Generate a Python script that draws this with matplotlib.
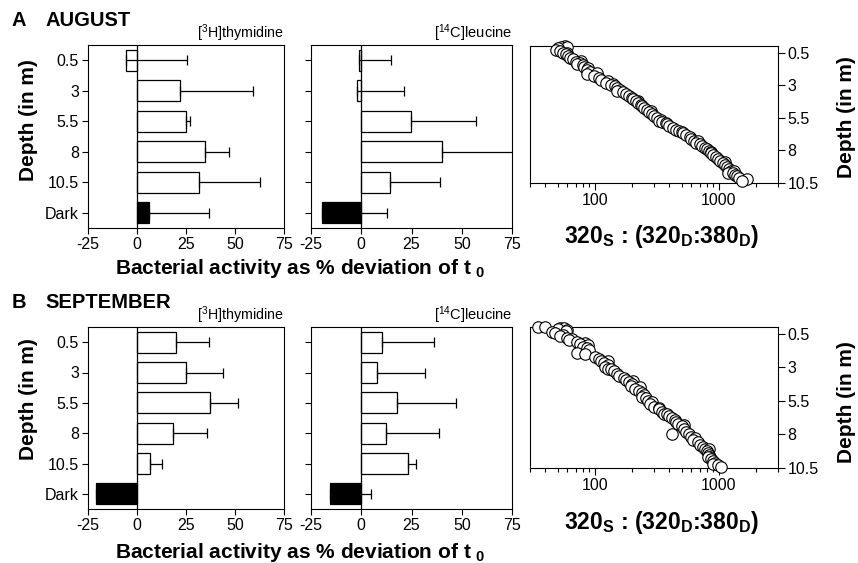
import numpy as np
import matplotlib.pyplot as plt
from matplotlib.ticker import LogLocator, NullFormatter

plt.rcParams['font.family'] = ['Liberation Sans', 'DejaVu Sans']
plt.rcParams['mathtext.fontset'] = 'custom'
plt.rcParams['mathtext.rm'] = 'Liberation Sans'
plt.rcParams['mathtext.it'] = 'Liberation Sans:italic'
plt.rcParams['mathtext.bf'] = 'Liberation Sans:bold'
plt.rcParams['axes.unicode_minus'] = False

# bar panels: % deviation of t0 and upper error
depths = ['0.5', '3', '5.5', '8', '10.5', 'Dark']

aug_thy = [-5.4, 22.1, 25.2, 34.5, 31.8, 6.3]
aug_thy_err = [30.9, 36.9, 2.0, 12.3, 31.1, 30.3]
aug_leu = [-1.2, -2.3, 24.6, 40.4, 14.4, -19.6]
aug_leu_err = [15.9, 23.6, 32.5, 39.6, 25.0, 32.6]

sep_thy = [20.1, 25.2, 37.4, 18.5, 6.8, -20.9]
sep_thy_err = [16.8, 18.7, 14.0, 17.2, 5.8, np.nan]
sep_leu = [10.1, 7.9, 18.0, 12.5, 23.3, -15.3]
sep_leu_err = [26.0, 23.9, 28.9, 26.4, 3.8, 20.3]

# ratio profiles: depth (m) vs 320S:(320D:380D)
aug_depth = [0.15, 0.05, 0.02, 0.1, 0.3, 0.4, 0.55, 0.6, 0.75, 0.9, 1.0, 1.25,
             1.15, 1.4, 1.6, 1.7, 1.85, 2.0, 2.1, 2.3, 2.45, 2.6, 2.8, 2.9,
             3.0, 3.1, 3.25, 3.4, 3.55, 3.7, 3.8, 3.95, 4.1, 4.25, 4.4, 4.6,
             4.5, 4.75, 4.9, 5.05, 5.2, 5.35, 5.5, 5.65, 5.8, 5.9, 6.1, 6.25,
             6.4, 6.55, 6.7, 6.85, 6.95, 7.1, 7.25, 7.4, 7.5, 7.65, 7.8, 7.9,
             8.05, 8.2, 8.35, 8.5, 8.65, 8.8, 8.95, 9.1, 9.25, 9.4, 9.55, 9.75,
             9.9, 10.0, 10.15, 10.35, 10.2, 1.45, 2.15, 5.75, 9.7,
             0.5, 1.3, 2.7, 3.45, 4.2, 4.95, 6.0, 6.6, 7.3, 8.1, 8.9, 9.6]
aug_ratio = [50, 53, 57, 60, 49, 52, 55, 58, 61, 63, 67, 70,
             78, 72, 82, 88, 86, 92, 104, 98, 108, 112, 122, 140,
             135, 145, 150, 160, 170, 178, 190, 200, 205, 215, 222, 240,
             235, 250, 262, 275, 290, 300, 320, 340, 350, 372, 400, 430,
             455, 480, 510, 545, 580, 600, 630, 660, 700, 730, 780, 800,
             830, 870, 900, 950, 980, 1020, 1080, 1120, 1170, 1200, 1260, 1300,
             1350, 1400, 1450, 1550, 1700, 80, 86, 330, 1180,
             60, 76, 128, 150, 222, 285, 385, 500, 680, 870, 1130, 1320]

sep_depth = [0.0, 0.0, 0.05, 0.05, 0.15, 0.3, 0.35, 0.45, 0.6, 0.7, 0.85, 1.0,
             1.1, 1.3, 1.5, 1.6, 1.35, 1.9, 2.0, 2.2, 2.4, 2.55, 2.7, 2.85,
             3.0, 3.15, 3.3, 3.5, 3.65, 3.8, 3.95, 4.1, 4.25, 4.4, 4.6, 4.75,
             4.9, 5.1, 5.3, 5.5, 5.75, 5.95, 6.1, 6.3, 6.45, 6.6, 6.75, 6.9,
             7.05, 7.2, 7.4, 7.6, 7.8, 8.0, 7.95, 8.2, 8.4, 8.6, 8.75, 8.9,
             9.05, 9.2, 9.35, 9.5, 9.65, 9.8, 9.95, 10.1, 10.25, 10.4,
             0.2, 1.2, 2.5, 4.0, 5.2, 6.0, 9.1,
             0.9, 1.7, 3.1, 4.5, 5.6, 6.5, 7.3, 8.3, 9.7, 10.2]
sep_ratio = [35, 40, 52, 56, 50, 58, 45, 48, 55, 52, 60, 62,
             72, 76, 80, 86, 88, 72, 84, 100, 108, 112, 118, 128,
             120, 136, 143, 150, 158, 172, 180, 190, 200, 195, 210, 225,
             240, 250, 260, 268, 280, 300, 330, 345, 360, 400, 420, 440,
             455, 470, 500, 520, 540, 420, 570, 600, 620, 680, 700, 740,
             770, 800, 820, 830, 850, 870, 900, 930, 980, 1050,
             60, 84, 128, 205, 240, 330, 840,
             66, 90, 128, 232, 290, 380, 520, 640, 820, 890]

W, H = 858, 563
fig = plt.figure(figsize=(W / 100, H / 100), dpi=100)


def rect(l, r, t, b):
    return [l / W, 1 - b / H, (r - l) / W, (b - t) / H]


def px_text(x, y, s, **kw):
    fig.text(x / W, 1 - y / H, s, **kw)


def bar_panel(box, vals, errs, labels_on):
    ax = fig.add_axes(box)
    pos = np.arange(len(depths))
    colors = ['white'] * 5 + ['black']
    ax.barh(pos, vals, height=0.7, color=colors, edgecolor='black', linewidth=0.9)
    ax.errorbar(vals, pos, xerr=[np.zeros(len(vals)), errs], fmt='none',
                ecolor='black', elinewidth=0.9, capsize=3.5, capthick=0.9)
    ax.axvline(0, color='black', lw=0.9)
    ax.set_xlim(-25, 75)
    ax.set_ylim(5.5, -0.5)
    ax.set_xticks([-25, 0, 25, 50, 75])
    ax.set_yticks(pos)
    ax.set_yticklabels(depths if labels_on else [])
    ax.tick_params(direction='out', length=4.5, width=0.8, labelsize=11.5, pad=2)
    for sp in ax.spines.values():
        sp.set_linewidth(0.8)
    return ax


def ratio_panel(box, d, r):
    ax = fig.add_axes(box)
    order = np.argsort(d)
    ax.scatter(np.array(r)[order], np.array(d)[order], s=68, facecolor='white',
               edgecolor='black', linewidth=0.8, zorder=3, clip_on=False)
    ax.set_xscale('log')
    ax.set_xlim(30, 3000)
    ax.set_ylim(10.5, 0)
    ax.set_xticks([100, 1000])
    ax.set_xticklabels(['100', '1000'])
    ax.xaxis.set_minor_locator(LogLocator(base=10, subs=range(2, 10)))
    ax.xaxis.set_minor_formatter(NullFormatter())
    ax.set_yticks([0.5, 3, 5.5, 8, 10.5])
    ax.set_yticklabels(['0.5', '3', '5.5', '8', '10.5'])
    ax.yaxis.tick_right()
    ax.tick_params(axis='both', which='major', direction='out', length=5,
                   width=0.8, labelsize=11.5, pad=2)
    ax.tick_params(axis='x', which='minor', direction='out', length=3, width=0.8)
    for sp in ax.spines.values():
        sp.set_linewidth(0.8)
    return ax


# August
bar_panel(rect(88, 284, 45, 228), aug_thy, aug_thy_err, True)
bar_panel(rect(311, 512, 45, 228), aug_leu, aug_leu_err, False)
ratio_panel(rect(530, 778, 46, 183), aug_depth, aug_ratio)

# September
bar_panel(rect(88, 284, 327, 509), sep_thy, sep_thy_err, True)
bar_panel(rect(311, 512, 327, 509), sep_leu, sep_leu_err, False)
ratio_panel(rect(530, 778, 327, 468), sep_depth, sep_ratio)

bold = dict(fontweight='bold')
for y0, letter, month, ylab, yx, yr, yratio, lab_y in [
        (21, 'A', 'AUGUST', 120, 268, 117, 237, 38),
        (303, 'B', 'SEPTEMBER', 399, 553, 402, 522, 320)]:
    px_text(12, y0, letter, fontsize=14.5, va='center', **bold)
    px_text(45, y0, month, fontsize=14.5, va='center', **bold)
    px_text(284, lab_y, '[$^3$H]thymidine', fontsize=10.3, ha='right', va='baseline')
    px_text(512, lab_y, '[$^{14}$C]leucine', fontsize=10.5, ha='right', va='baseline')
    px_text(29, ylab, 'Depth (in m)', fontsize=15, rotation=90, ha='center',
            va='center', **bold)
    px_text(846, yr, 'Depth (in m)', fontsize=15, rotation=90, ha='center',
            va='center', **bold)
    px_text(300, yx, r'Bacterial activity as % deviation of t $_\mathbf{0}$',
            fontsize=15, ha='center', va='center', **bold)
    px_text(662, yratio,
            r'320$_\mathbf{S}$ : (320$_\mathbf{D}$:380$_\mathbf{D}$)',
            fontsize=16.5, ha='center', va='center', **bold)

fig.savefig('out.png', dpi=100)
